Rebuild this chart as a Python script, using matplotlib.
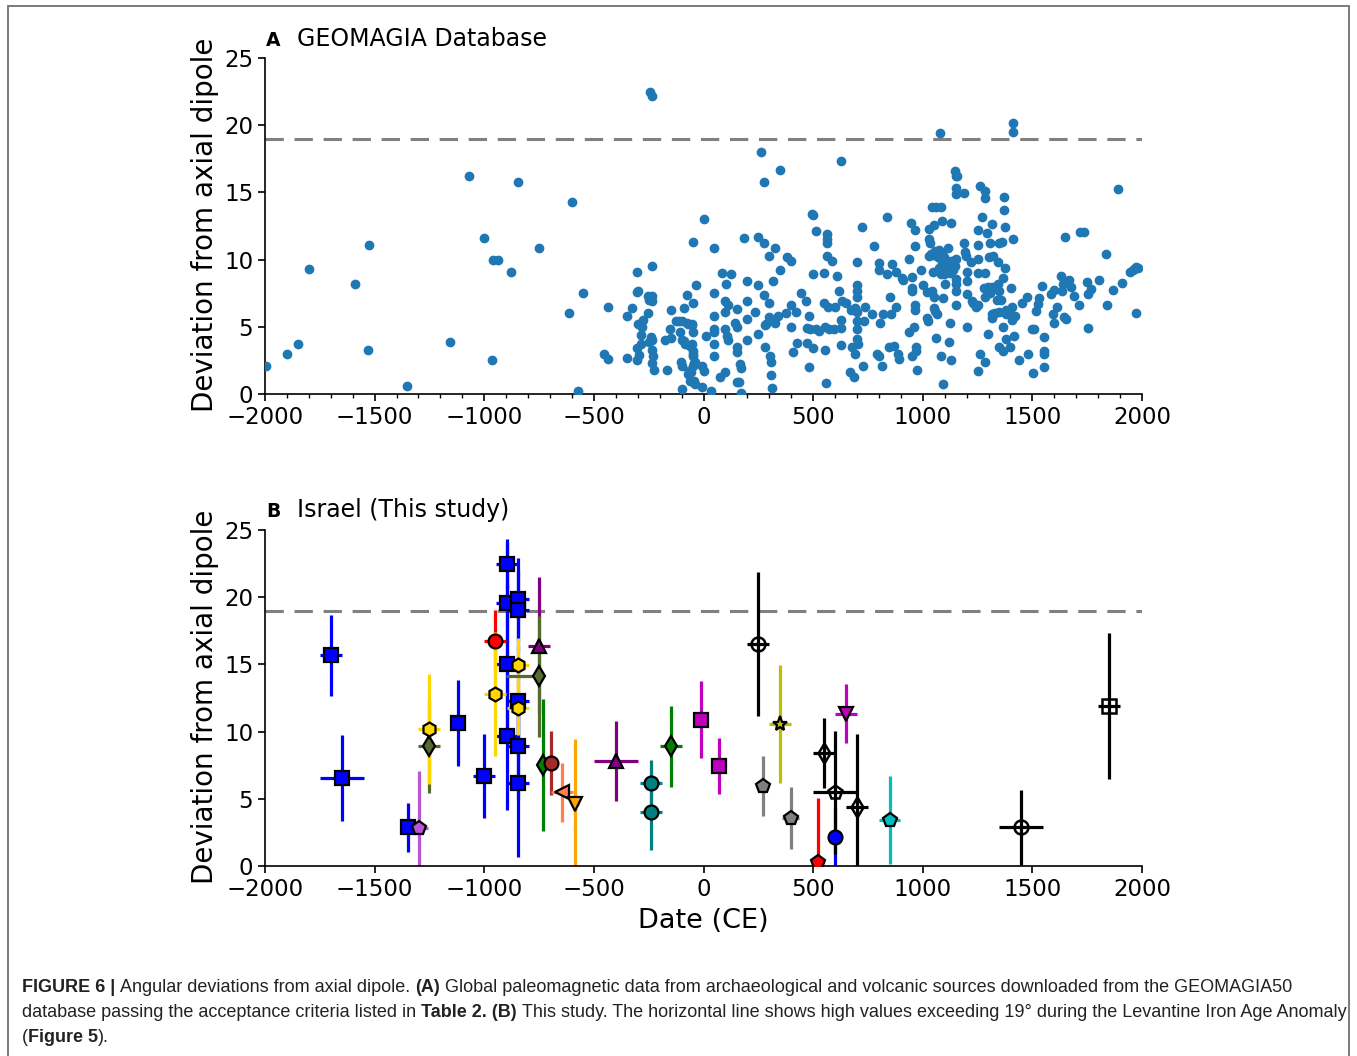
import matplotlib
matplotlib.use('Agg')
import matplotlib.pyplot as plt
from matplotlib.patches import Rectangle
from matplotlib.ticker import MultipleLocator

# ---- Panel A: GEOMAGIA50 angular deviations (age CE, deviation deg) ----
geo_age_early = [-1995, -1898, -1848, -1798, -1588, -1529, -1524, -1354, -1158, -1070,
                 -1001, -966, -962, -939, -878, -848, -751, -612, -600, -571,
                 -550, -453, -437, -434, -351, -351, -328]
geo_dev_early = [2.1, 3.0, 3.7, 9.3, 8.2, 3.3, 11.1, 0.6, 3.9, 16.2,
                 11.6, 2.5, 10.0, 10.0, 9.1, 15.8, 10.9, 6.0, 14.3, 0.25,
                 7.5, 3.0, 2.6, 6.5, 2.7, 5.8, 6.4]

geo_age_late_bce = [-305, -305, -302, -302, -298, -298, -295, -286, -283, -280,
                    -275, -252, -252, -249, -245, -237, -237, -237, -234, -249,
                    -240, -237, -237, -237, -229, -226,
                    -175, -165, -152, -149, -148, -126, -114, -107, -102, -99,
                    -99, -99, -96, -87, -84, -76, -72, -69, -66, -61,
                    -53, -53, -50, -50, -49, -49, -46, -44, -38, -35,
                    -8, -5, 0, 3, 12, -90, -63, -75, -52, -49,
                    -55, -45, -40, -50, -45]
geo_dev_late_bce = [2.55, 3.4, 9.05, 7.6, 7.7, 5.2, 2.9, 3.7, 4.4, 5.0,
                    5.5, 6.0, 7.3, 7.0, 22.5, 22.2, 9.5, 7.3, 6.95, 3.9,
                    4.25, 4.05, 3.25, 2.3, 2.8, 1.8,
                    4.0, 1.8, 4.8, 6.25, 4.2, 5.4, 5.4, 4.6, 2.4, 4.0,
                    0.4, 5.45, 2.1, 6.4, 3.7, 7.4, 5.2, 1.5, 1.7, 1.0,
                    3.7, 5.2, 11.3, 6.8, 3.2, 2.85, 2.1, 0.8, 2.4, 8.1,
                    2.1, 0.5, 13.0, 1.7, 4.3, 3.95, 3.6, 5.3, 5.15, 4.6,
                    1.6, 1.0, 0.75, 3.0, 2.3]

geo_age_first_mill = [35, 50, 50, 50, 50, 50, 50, 50, 73, 84,
                      99, 99, 99, 99, 104, 107, 110, 114, 125, 142,
                      151, 151, 151, 151, 154, 160, 166, 169, 172, 183,
                      198, 198, 198, 200, 236, 248, 248, 248, 262, 274,
                      274, 274, 279, 282, 285, 297, 300, 300, 305, 306,
                      308, 311, 317, 325, 328, 340, 351, 351, 378, 381,
                      398, 401, 401, 407, 424, 427, 443, 469, 472, 474,
                      480, 480, 488, 495, 500, 500, 500, 511, 515, 526,
                      549, 549, 553, 556, 561, 564, 564, 564, 564, 567,
                      572, 587, 594, 602, 610, 620, 625, 629, 629, 629,
                      632, 648, 666, 675, 678, 686, 689, 693, 701, 701,
                      701, 701, 701, 701, 701, 701, 706, 721, 727, 732,
                      736, 770, 777, 792, 800, 800, 800, 803, 814, 817,
                      837, 838, 846, 852, 854, 861, 869, 877, 877, 888,
                      891, 907, 911, 937, 937, 948, 949, 949, 949, 953,
                      960, 963, 963, 963, 963, 968, 971, 972, 990]
geo_dev_first_mill = [0.2, 10.9, 7.5, 5.8, 4.8, 4.6, 3.7, 2.8, 1.3, 9.0,
                      1.6, 6.9, 6.1, 4.8, 8.2, 4.3, 4.0, 6.6, 8.9, 5.3,
                      6.3, 5.0, 3.5, 3.1, 0.9, 0.9, 2.2, 1.9, 0.1, 11.6,
                      8.4, 6.9, 5.6, 4.0, 6.1, 8.1, 11.7, 4.5, 18.0, 11.2,
                      15.8, 7.4, 5.1, 3.5, 5.2, 10.3, 6.8, 5.7, 2.85, 2.4,
                      1.4, 0.45, 8.4, 5.3, 10.9, 5.8, 16.7, 9.2, 6.0, 10.2,
                      9.9, 5.0, 6.65, 3.1, 6.1, 3.8, 7.5, 6.95, 4.9, 3.8,
                      5.8, 2.0, 4.8, 13.4, 13.3, 8.9, 3.4, 4.8, 12.1, 4.7,
                      9.0, 6.75, 5.0, 3.3, 0.8, 11.9, 11.5, 11.2, 10.3, 6.45,
                      4.8, 9.9, 4.8, 6.45, 8.8, 7.7, 5.5, 17.3, 4.9, 3.65,
                      6.95, 6.8, 1.6, 6.25, 3.5, 1.25, 3.0, 6.4, 9.8, 8.1,
                      7.7, 7.2, 6.1, 5.4, 4.8, 4.1, 3.7, 12.4, 2.1, 5.45,
                      6.45, 5.95, 11.0, 3.0, 9.75, 9.2, 2.8, 5.3, 2.1, 5.95,
                      13.2, 8.9, 3.5, 7.2, 5.95, 9.7, 3.6, 9.05, 6.45, 3.0,
                      2.6, 8.6, 8.5, 10.05, 4.65, 12.7, 8.7, 7.9, 7.7, 2.8,
                      5.0, 12.2, 11.0, 6.25, 6.65, 3.5, 3.2, 1.8, 9.2]

geo_age_second_mill = [1001, 1021, 1021, 1025, 1029, 1029, 1029, 1032, 1044, 1044,
                       1047, 1047, 1050, 1052, 1052, 1056, 1059, 1062, 1064, 1067,
                       1070, 1074, 1074, 1077, 1082, 1082, 1082, 1086, 1089, 1089,
                       1093, 1093, 1097, 1100, 1105, 1108, 1113, 1113, 1117, 1120,
                       1123, 1128, 1128, 1133, 1135, 1140, 1148, 1151, 1151, 1151,
                       1151, 1151, 1151, 1151, 1151, 1158, 1189, 1189, 1194, 1197,
                       1200, 1200, 1200, 1204, 1219, 1223, 1230, 1242, 1251, 1251,
                       1252, 1252, 1252, 1252, 1261, 1262, 1268, 1280, 1283, 1286,
                       1286, 1286, 1286, 1294, 1297, 1299, 1302, 1305, 1308, 1314,
                       1314, 1317, 1317, 1322, 1329, 1340, 1343, 1344, 1347, 1347,
                       1347, 1350, 1355, 1360, 1364, 1364, 1364, 1371, 1371, 1375,
                       1375, 1379, 1379, 1379, 1386, 1394, 1398, 1402, 1407, 1407,
                       1410, 1410, 1413, 1422, 1418, 1437, 1452, 1477, 1478, 1500,
                       1501, 1509, 1516, 1524, 1528, 1544, 1554, 1554, 1554, 1554,
                       1585, 1593, 1600, 1600, 1611, 1631, 1635, 1638, 1646, 1650,
                       1654, 1666, 1676, 1692, 1711, 1717, 1737, 1748, 1753, 1753,
                       1768, 1803, 1837, 1840, 1870, 1890, 1908, 1943, 1958, 1974,
                       1981, 1036, 1058, 1073, 1078, 1104, 1119, 1134, 1149, 1111,
                       1126, 1096, 1965, 1972]
geo_dev_second_mill = [8.1, 7.6, 5.65, 5.45, 12.3, 11.5, 10.3, 11.25, 13.9, 7.65,
                       10.35, 9.1, 7.25, 12.6, 6.4, 6.2, 4.2, 13.9, 10.5, 5.95,
                       10.2, 10.7, 9.4, 19.4, 13.9, 8.9, 2.85, 12.85, 10.4, 9.8,
                       7.15, 0.75, 10.2, 8.2, 9.4, 9.8, 10.9, 9.9, 9.2, 3.9,
                       5.3, 12.7, 2.5, 9.9, 9.55, 9.2, 16.6, 16.25, 15.3, 14.9,
                       10.05, 8.55, 8.2, 7.7, 6.65, 16.25, 14.95, 11.2, 10.55, 10.3,
                       9.05, 8.4, 7.45, 5.0, 9.8, 6.95, 6.75, 6.45, 9.0, 11.1,
                       12.2, 10.05, 6.6, 1.7, 15.5, 3.0, 13.2, 7.9, 9.0, 15.1,
                       14.6, 7.25, 2.35, 12.0, 7.95, 4.45, 10.2, 11.2, 7.55, 5.65,
                       7.95, 12.65, 5.95, 10.3, 6.0, 7.0, 8.2, 9.8, 11.2, 3.5,
                       7.7, 6.1, 7.0, 11.3, 3.2, 5.0, 8.6, 14.65, 13.7, 12.45,
                       9.35, 6.25, 5.95, 4.1, 6.1, 5.95, 3.5, 7.9, 5.5, 6.45,
                       20.2, 19.5, 11.5, 5.8, 4.35, 2.5, 6.75, 7.2, 3.0, 4.85,
                       1.55, 4.85, 6.2, 6.7, 7.15, 8.05, 3.2, 3.0, 2.0, 4.25,
                       7.45, 5.95, 7.75, 5.25, 6.5, 8.75, 7.65, 8.2, 5.7, 11.65,
                       5.6, 8.45, 7.95, 7.3, 6.65, 12.05, 12.05, 8.3, 7.45, 4.9,
                       7.8, 8.5, 10.4, 6.6, 7.75, 15.25, 8.25, 9.1, 9.2, 6.0,
                       9.4, 10.4, 10.66, 10.2, 10.3, 9.9, 9.7, 9.9, 9.5, 9.4,
                       9.0, 8.9, 9.3, 9.45]

geo_age = geo_age_early + geo_age_late_bce + geo_age_first_mill + geo_age_second_mill
geo_dev = geo_dev_early + geo_dev_late_bce + geo_dev_first_mill + geo_dev_second_mill

# ---- Panel B: Israel, this study ----
isr_age = [-1698, -1650, -1348, -1122, -1000, -898, -898, -898, -898, -848,
           -848, -848, -848, -848, -1299, -1250, -1250, -951, -951, -848,
           -848, -750, -750, -731, -695, -647, -586, -401, -241, -241,
           -150, -12, 70, 272, 397, 349, 521, 598, 650, 849,
           249, 549, 598, 700, 1449, 1849]
isr_dev = [15.67, 6.56, 2.87, 10.64, 6.7, 22.47, 19.55, 15.05, 9.65, 19.83,
           19.06, 12.3, 8.9, 6.2, 2.8, 8.9, 10.17, 16.73, 12.8, 14.93,
           11.78, 16.4, 14.1, 7.5, 7.67, 5.5, 4.65, 7.82, 6.19, 4.03,
           8.9, 10.9, 7.45, 5.94, 3.6, 10.54, 0.27, 2.13, 11.34, 3.42,
           16.53, 8.44, 5.47, 4.4, 2.87, 11.9]
isr_age_err_lo = [50, 100, 30, 25, 50, 50, 50, 50, 50, 50,
                  50, 50, 50, 50, 43, 50, 50, 50, 50, 50,
                  50, 50, 150, 20, 20, 50, 20, 100, 50, 50,
                  50, 20, 20, 25, 40, 50, 20, 20, 50, 48,
                  50, 50, 100, 50, 100, 50]
isr_age_err_hi = [50, 100, 30, 25, 50, 50, 50, 50, 50, 50,
                  50, 50, 50, 50, 43, 50, 50, 50, 50, 50,
                  50, 50, 20, 20, 20, 50, 20, 100, 50, 50,
                  50, 20, 20, 25, 40, 50, 20, 20, 50, 48,
                  50, 50, 100, 50, 100, 50]
isr_dev_err = [3.0, 3.2, 1.85, 3.2, 3.1, 1.85, 4.5, 6.0, 5.5, 3.1,
               3.0, 4.0, 4.0, 5.5, 4.3, 3.45, 4.1, 2.33, 4.6, 2.0,
               2.0, 5.1, 4.5, 4.9, 2.4, 2.2, 4.8, 3.0, 1.7, 2.85,
               3.0, 2.9, 2.1, 2.23, 2.3, 4.4, 4.8, 2.2, 2.2, 3.27,
               5.36, 2.6, 4.6, 5.4, 2.8, 5.4]
isr_marker = ['s'] * 14 + ['p', 'd', 'h', 'o', 'h', 'h', 'h', '^', 'd', 'd',
                           'o', '<', 'v', '^', 'o', 'o', 'd', 's', 's', 'p',
                           'p', '*', 'p', 'o', 'v', 'p',
                           'o', 'd', 'p', 'd', 'o', 's']
isr_color = ['blue'] * 14 + ['mediumorchid', 'darkolivegreen', 'gold', 'red', 'gold',
                             'gold', 'gold', 'purple', 'darkolivegreen', 'green',
                             'brown', 'coral', 'orange', 'purple', 'teal', 'teal',
                             'green', 'm', 'm', 'gray', 'gray', 'y', 'red', 'blue',
                             'm', 'c'] + ['k'] * 6
isr_open = [False] * 40 + [True] * 6

W, H = 1357, 1056
fig = plt.figure(figsize=(W / 100, H / 100), dpi=100)


def px(x, y):
    return x / W, 1 - y / H


ax1 = fig.add_axes([265 / W, 1 - 394 / H, 877 / W, 336 / H])
ax2 = fig.add_axes([265 / W, 1 - 866 / H, 877 / W, 336 / H])

ax1.scatter(geo_age, geo_dev, s=36, color='#1f77b4', zorder=3)

for i in range(len(isr_age)):
    ax2.errorbar(isr_age[i], isr_dev[i],
                 xerr=[[isr_age_err_lo[i]], [isr_age_err_hi[i]]],
                 yerr=isr_dev_err[i], fmt='none', ecolor=isr_color[i],
                 elinewidth=2.3, capsize=0, zorder=2)
for i in range(len(isr_age)):
    face = 'none' if isr_open[i] else isr_color[i]
    ms = 11 if isr_marker[i] == '*' else 10
    ax2.plot(isr_age[i], isr_dev[i], linestyle='none', marker=isr_marker[i],
             markersize=ms, markerfacecolor=face, markeredgecolor='k',
             markeredgewidth=1.6 if not isr_open[i] else 1.8, zorder=3)

for ax in (ax1, ax2):
    ax.axhline(19, color='gray', linestyle='--', linewidth=2.2, dashes=(6, 3.5), zorder=1)
    ax.set_xlim(-2000, 2000)
    ax.set_ylim(0, 25)
    ax.spines['top'].set_visible(False)
    ax.spines['right'].set_visible(False)
    for s in ('left', 'bottom'):
        ax.spines[s].set_linewidth(1.2)
    ax.xaxis.set_major_locator(MultipleLocator(500))
    ax.yaxis.set_major_locator(MultipleLocator(5))
    ax.tick_params(labelsize=16.5, length=5, width=1.2)

ax1.xaxis.set_minor_locator(MultipleLocator(100))
ax1.tick_params(axis='x', which='minor', length=3, width=1)

ax2.set_xlabel('Date (CE)', fontsize=19.5, labelpad=5)

for yc in (225, 697):
    fig.text(*px(205, yc), 'Deviation from axial dipole', rotation=90,
             fontsize=20, ha='center', va='center')

fig.text(*px(266, 46), 'A', fontsize=13.5, fontweight='bold', va='baseline')
fig.text(*px(297, 46), 'GEOMAGIA Database', fontsize=17, va='baseline')
fig.text(*px(266, 517), 'B', fontsize=13.5, fontweight='bold', va='baseline')
fig.text(*px(297, 517), 'Israel (This study)', fontsize=17, va='baseline')

# frame around the figure
fig.patches.append(Rectangle((8 / W, -0.02), 1341 / W, 1.02 - 6 / H,
                             transform=fig.transFigure, fill=False,
                             edgecolor='#707070', linewidth=1.3))

# caption with mixed bold / regular runs
cap_lines = [
    [('FIGURE 6 |', True), ('Angular deviations from axial dipole.', False), ('(A)', True),
     ('Global paleomagnetic data from archaeological and volcanic sources downloaded from the GEOMAGIA50', False)],
    [('database passing the acceptance criteria listed in', False), ('Table 2. (B)', True),
     ('This study. The horizontal line shows high values exceeding 19\u00b0 during the Levantine Iron Age Anomaly', False)],
    [('(', False), ('Figure 5', True), (').', False)],
]
cap_gap = [[True, True, True], [True, True], [False, False]]
cap_base = [992, 1017, 1042]
cap_family = ['Liberation Sans', 'DejaVu Sans']
cap_color = '#222222'

renderer = fig.canvas.get_renderer()


def width_px(txt, size, bold):
    t = fig.text(0, 0, txt, fontsize=size, family=cap_family,
                 fontweight='bold' if bold else 'normal')
    w = t.get_window_extent(renderer).width
    t.remove()
    return w


def line_width(segs, gaps, size):
    sp = width_px('a a', size, False) - width_px('aa', size, False)
    total = sum(width_px(s, size, b) for s, b in segs)
    return total + sp * sum(gaps)


size = 12.0 * 1270 / line_width(cap_lines[0], cap_gap[0], 12.0)
space = width_px('a a', size, False) - width_px('aa', size, False)

for segs, gaps, yb in zip(cap_lines, cap_gap, cap_base):
    x = 22
    for k, (txt, bold) in enumerate(segs):
        t = fig.text(*px(x, yb), txt, fontsize=size, family=cap_family,
                     fontweight='bold' if bold else 'normal', color=cap_color,
                     va='baseline')
        x += t.get_window_extent(renderer).width
        if k < len(gaps) and gaps[k]:
            x += space

fig.savefig('out.png', dpi=100)
